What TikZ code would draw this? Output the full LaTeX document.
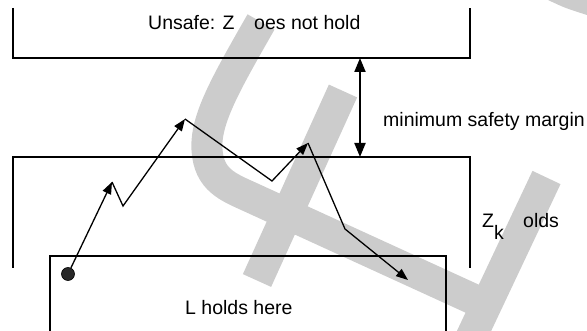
\documentclass[tikz,border=0pt]{standalone}
\usepackage{fontspec}
\setmainfont{Liberation Sans}
\usetikzlibrary{arrows.meta}
\definecolor{wm}{RGB}{204,204,204}
\definecolor{dotc}{RGB}{40,40,40}
\tikzset{
  band/.style={draw=wm, line width=31pt, line cap=butt},
  frame/.style={draw=black, line width=2pt},
  walk/.style={draw=black, line width=1.3pt, -{Triangle[length=12pt,width=9pt]}},
  margin/.style={draw=black, line width=2pt, {Triangle[length=14pt,width=11pt]}-{Triangle[length=14pt,width=11pt]}},
  lbl/.style={inner sep=0pt, anchor=base west, font=\fontsize{19.5}{23}\selectfont}
}
\begin{document}
\begin{tikzpicture}[x=1pt,y=-1pt]
\useasboundingbox (0,0) rectangle (587,331);
% background watermark shapes
\draw[band] (261,22) .. controls (225,85) and (205,120) .. (207,150)
  .. controls (209,180) and (228,187) .. (250,197) -- (486,305);
\draw[band] (257,280.5) -- (343,91);
\draw[band] (546.5,177.5) -- (466,348);
\fill[wm] (548,0) .. controls (565,8) .. (587,15) -- (587,0) -- cycle;
% frames
\draw[frame] (13,8) -- (13,58) -- (470,58) -- (470,8);
\draw[frame] (13,268) -- (13,157) -- (470,157) -- (470,268);
\draw[frame] (50,331) -- (50,256) -- (446,256) -- (446,331);
% margin arrow
\coordinate (mtop) at (360,58);
\coordinate (mbot) at (360,157);
\draw[margin] (mtop) -- (mbot);
% texts
\node[lbl] (unsafeA) at (148,30) {Unsafe: Z};
\node[lbl] (unsafeB) at (254,30) {oes not hold};
\node[lbl] (msm) at (383,127) {minimum safety margin};
\node[lbl] (zk) at (482,228) {Z\raisebox{-12pt}{k}};
\node[lbl] (olds) at (523,228) {olds};
\node[lbl] (lhold) at (185,315) {L holds here};
% walk
\node[circle, fill=dotc, draw=black, line width=0.6pt, minimum size=13pt, inner sep=0pt] (start) at (68,274) {};
\coordinate (t1) at (112,182);
\coordinate (v1) at (123,206);
\coordinate (t2) at (185,119);
\coordinate (v2) at (272,181);
\coordinate (t3) at (308,143);
\coordinate (b3) at (345,229);
\coordinate (t4) at (408,280);
\draw[walk] (start) -- (t1);
\draw[walk] (t1) -- (v1) -- (t2);
\draw[walk] (t2) -- (v2) -- (t3);
\draw[walk] (t3) -- (b3) -- (t4);
\end{tikzpicture}
\end{document}
